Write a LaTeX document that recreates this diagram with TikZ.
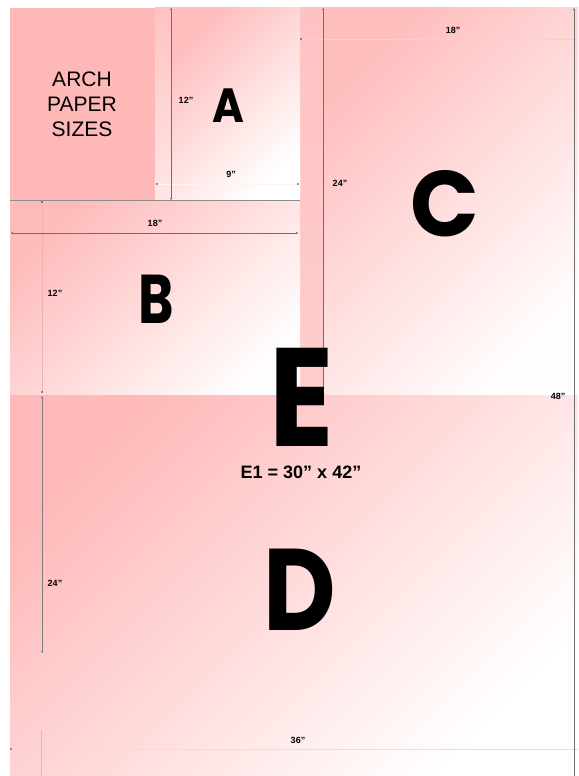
\documentclass[tikz,border=0pt]{standalone}
\usepackage{fontspec}
\setmainfont{Liberation Sans}
\newfontfamily\geo{Poppins}
\usetikzlibrary{arrows.meta}
\definecolor{archpink}{HTML}{FFB8B8}
\definecolor{pinkA}{HTML}{FFBDBD}
\definecolor{pinkB}{HTML}{FFBBBB}
\definecolor{pinkC}{HTML}{FFBEBE}
\definecolor{pinkD}{HTML}{FFB9B9}
\definecolor{stripTop}{HTML}{FFC2C2}
\definecolor{stripBot}{HTML}{FFE6E6}
\definecolor{stripCBot}{HTML}{FFCCCC}
\definecolor{dimgray}{HTML}{6E6E6E}
\definecolor{faint}{HTML}{E9B3B3}
\tikzset{
  dimline/.style={draw=dimgray, line width=0.7pt, {Stealth[length=2.2pt,width=2.2pt]}-{Stealth[length=2.2pt,width=2.2pt]}},
  dimlineone/.style={draw=dimgray, line width=0.7pt, {Stealth[length=2.2pt,width=2.2pt]}-},
  faintline/.style={draw=faint, line width=0.6pt},
  enddot/.style={circle, fill=black!80, inner sep=0pt, minimum size=1.6pt},
  dimlab/.style={font=\fontsize{9}{10}\selectfont\bfseries, inner sep=0pt},
  bigletter/.style={inner sep=0pt, text=black, anchor=base, text depth=0pt},
}
\begin{document}
\begin{tikzpicture}[x=1pt,y=-1pt]
\useasboundingbox (0,0) rectangle (578,776);
\fill[white] (0,0) rectangle (578,776);
% sheets
\shade[top color=pinkD, bottom color=white, shading angle=45] (10,394) rectangle (578,776);
\shade[top color=pinkC, bottom color=white!97!pinkC, shading angle=45] (323,8) rectangle (578,394);
\shade[top color=stripTop, bottom color=stripCBot] (300,8) rectangle (323,394);
\shade[top color=pinkB, bottom color=white!96!pinkB, shading angle=45] (10,200) rectangle (300,394);
\shade[top color=pinkA, bottom color=white, shading angle=45] (171,8) rectangle (300,200);
\shade[top color=stripTop, bottom color=stripBot] (155,8) rectangle (171,200);
\fill[archpink] (10,8) rectangle (155,200);
% B top border
\coordinate (btl) at (10,200);
\coordinate (btr) at (300,200);
\draw[draw=black!45, line width=0.7pt] (btl) -- (btr);
% coordinates for dimension lines
\coordinate (a12t) at (171,8);    \coordinate (a12b) at (171,200);
\coordinate (a9l) at (157,184);   \coordinate (a9r) at (298,184);
\coordinate (b18l) at (11,233);   \coordinate (b18r) at (298,233);
\coordinate (b12t) at (42,202);   \coordinate (b12b) at (42,392);
\coordinate (c24t) at (323,8);    \coordinate (c24b) at (323,394);
\coordinate (c18l) at (301,39);   \coordinate (c18r) at (578,39);
\coordinate (e48t) at (574,8);    \coordinate (e48b) at (574,776);
\coordinate (d24t) at (42,396);   \coordinate (d24b) at (42,653);
\coordinate (d36l) at (11,749);   \coordinate (d36r) at (578,749);
\coordinate (d36vt) at (41,730);  \coordinate (d36vb) at (41,776);
% faint lines
\draw[faintline, draw=white!80!pinkA] (a9l) -- (a9r);
\draw[faintline] (b12t) -- (b12b);
\draw[faintline, draw=faint!60] (c18l) -- (c18r);
\draw[faintline, draw=faint!50] (d36l) -- (d36r);
\draw[faintline] (d36vt) -- (d36vb);
\node[enddot] (dotA1) at (a9l) {};
\node[enddot] (dotA2) at (a9r) {};
\node[enddot] (dotB1) at (b12t) {};
\node[enddot] (dotB2) at (b12b) {};
\node[enddot] (dotC1) at (c18l) {};
\node[enddot] (dotD1) at (d36l) {};
% dark lines
\draw[dimline] (a12t) -- (a12b);
\draw[dimline] (b18l) -- (b18r);
\draw[dimlineone] (c24t) -- (c24b);
\draw[dimlineone] (e48t) -- (e48b);
\draw[dimline, draw=dimgray!90] (d24t) -- (d24b);
% labels
\node[dimlab] (l12a) at (186,100) {12”};
\node[dimlab] (l9a) at (231,174) {9”};
\node[dimlab] (l18b) at (155,223) {18”};
\node[dimlab] (l12b) at (55,293) {12”};
\node[dimlab] (l24c) at (340,183) {24”};
\node[dimlab] (l18c) at (453,30) {18”};
\node[dimlab] (l48e) at (558,396) {48”};
\node[dimlab] (l24d) at (55,583) {24”};
\node[dimlab] (l36d) at (298,740) {36”};
% title
\node[align=center, font=\fontsize{21}{25}\selectfont, inner sep=0pt] (title) at (82,104) {ARCH\\PAPER\\SIZES};
% big letters
\node[bigletter, font=\geo\bfseries\fontsize{48}{48}\selectfont] (A) at (228,122) {\scalebox{0.9}[1]{A}};
\node[bigletter, font=\geo\bfseries\fontsize{69}{69}\selectfont] (B) at (156,323) {\scalebox{0.78}[1]{B}};
\node[bigletter, font=\geo\bfseries\fontsize{93}{93}\selectfont] (C) at (445,236) {\scalebox{0.97}[1]{C}};
\node[bigletter, font=\geo\bfseries\fontsize{140}{140}\selectfont] (E) at (302,446) {\scalebox{0.85}[1]{E}};
\node[bigletter, font=\geo\bfseries\fontsize{116}{116}\selectfont] (D) at (300,630) {\scalebox{0.86}[1]{D}};
\node[font=\fontsize{18}{20}\selectfont\bfseries, inner sep=0pt, anchor=base] (E1) at (301,478) {E1 = 30” x 42”};
\end{tikzpicture}
\end{document}
